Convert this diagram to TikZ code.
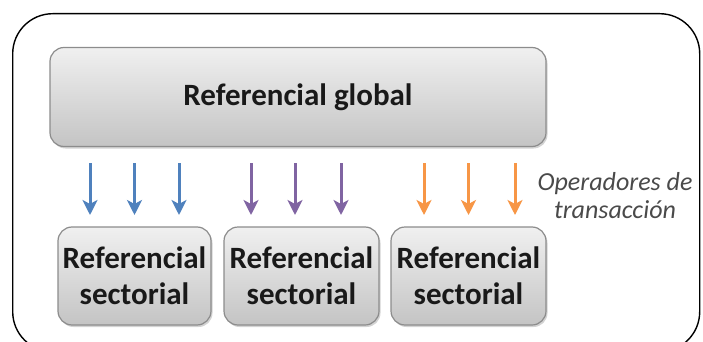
\documentclass[tikz,border=0pt]{standalone}
\usepackage{fontspec}
\setmainfont{Carlito}
\usetikzlibrary{arrows.meta,shadows}
\definecolor{boxline}{HTML}{8C8C8C}
\definecolor{boxtop}{HTML}{F0F0F0}
\definecolor{boxbot}{HTML}{C4C4C4}
\definecolor{opblue}{HTML}{4F81BD}
\definecolor{oppurple}{HTML}{8064A2}
\definecolor{oporange}{HTML}{F79646}
\definecolor{notegray}{HTML}{4A4A4A}
\tikzset{
  panel/.style={draw=boxline, line width=1.2pt, rounded corners=14pt,
    top color=boxtop, bottom color=boxbot,
    drop shadow={shadow xshift=1.5pt, shadow yshift=-2pt, opacity=0.35},
    font=\bfseries\fontsize{31}{36}\selectfont, text=black!90, align=center,
    inner sep=0pt},
  flow/.style={line width=3pt, -{Stealth[length=15pt,width=15pt,inset=4pt]}},
  note/.style={font=\itshape\fontsize{26}{28}\selectfont, text=notegray, align=center}
}
\begin{document}
\begin{tikzpicture}[x=1pt,y=-1pt]
  \useasboundingbox (0,0) rectangle (703,342);
  \begin{scope}
    \clip (0,0) rectangle (703,342);
    \node[draw=black, line width=1.4pt, rounded corners=40pt, minimum width=687pt,
      minimum height=338pt, anchor=north west] (frame) at (12,13) {};
  \end{scope}

  \node[panel, minimum width=496pt, minimum height=99pt] (global) at (298,97)
    {Referencial global};

  \node[panel, minimum width=153pt, minimum height=98pt] (s1) at (134.5,276)
    {Referencial\\sectorial};
  \node[panel, minimum width=155pt, minimum height=98pt] (s2) at (301.5,276)
    {Referencial\\sectorial};
  \node[panel, minimum width=155pt, minimum height=98pt] (s3) at (468.5,276)
    {Referencial\\sectorial};

  % transaction operators: three arrows per sector
  \foreach \x/\c [count=\i] in {90/opblue,134.5/opblue,179/opblue,
                                251/oppurple,295/oppurple,341/oppurple,
                                424/oporange,468.5/oporange,515/oporange}{
    \coordinate (a\i) at (\x,163);
    \coordinate (b\i) at (\x,215);
    \draw[flow, draw=\c, fill=\c] (a\i) -- (b\i);
  }

  \node[note] (ops) at (615,196) {Operadores de\\transacción};
\end{tikzpicture}
\end{document}
